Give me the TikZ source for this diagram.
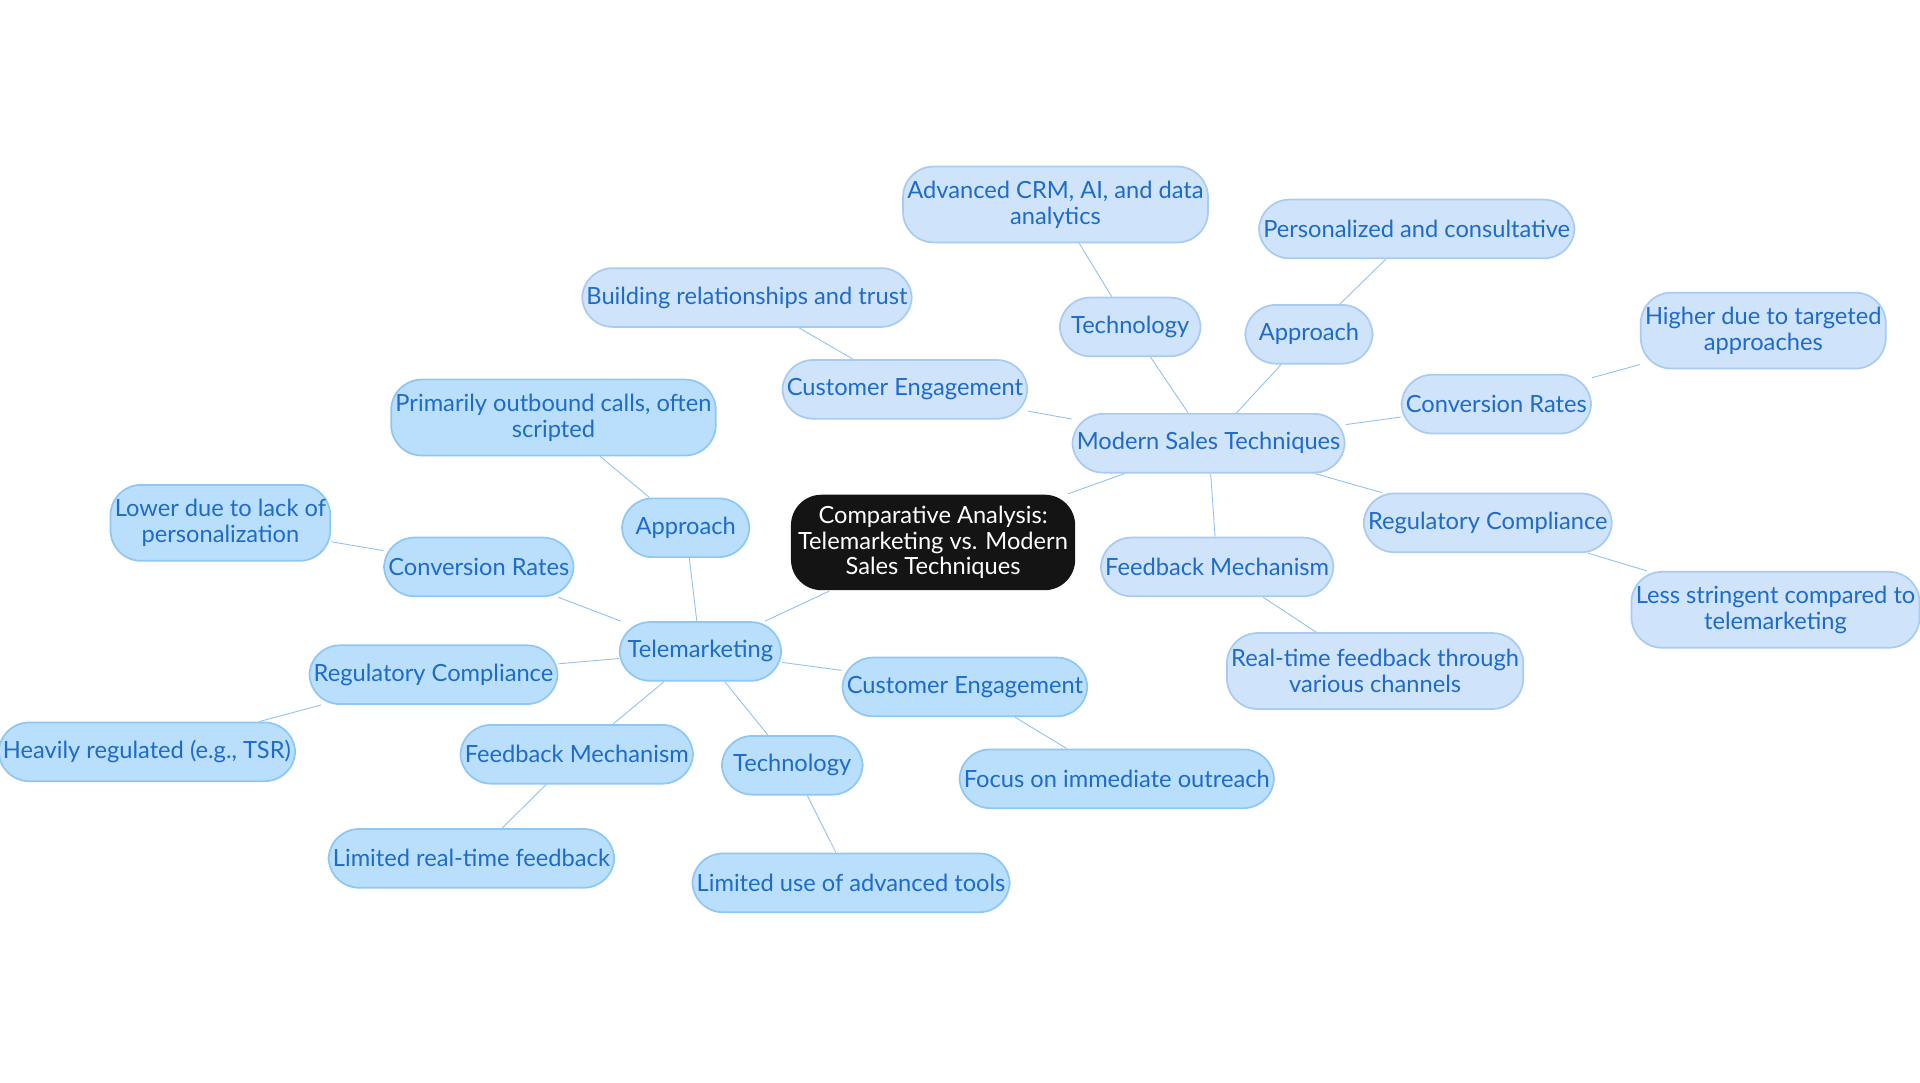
\documentclass[tikz,border=0pt]{standalone}
\usepackage{fontspec}
\setmainfont{Lato}
\usepackage{tikz}
\usetikzlibrary{backgrounds}

\definecolor{ink}{HTML}{1F6BC9}
\definecolor{modfill}{HTML}{CFE3FB}
\definecolor{moddraw}{HTML}{A9CBF2}
\definecolor{telfill}{HTML}{B9DFFC}
\definecolor{teldraw}{HTML}{8EC7F4}
\definecolor{edge}{HTML}{8FC0EE}

\tikzset{
  leaf/.style={rounded corners=0.5cm,align=center,text=ink,font=\fontsize{11pt}{12pt}\selectfont,minimum height=0.96cm,inner sep=2pt},
  modern/.style={leaf,fill=modfill,draw=moddraw},
  tele/.style={leaf,fill=telfill,draw=teldraw},
}

\begin{document}
\begin{tikzpicture}
  [x=0.02cm,y=-0.02cm,line width=0.8pt]
  \useasboundingbox (0,0) rectangle (1568,884);

  \node[style={rounded corners=0.5cm,fill=black!92,text=white,align=center,minimum width=4.04cm,minimum height=1.56cm,font=\fontsize{11pt}{12pt}\selectfont}] (root) at (762,443) {Comparative Analysis:\\Telemarketing vs. Modern\\Sales Techniques};

  \node[modern,minimum width=4cm] (m) at (987,362) {Modern Sales Techniques};
  \node[tele,minimum width=2.64cm] (t) at (572,532) {Telemarketing};

  \node[modern,minimum width=3.72cm] (m1) at (739,318) {Customer Engagement};
  \node[modern,minimum width=4.64cm] (m1a) at (610,243) {Building relationships and trust};
  \node[modern,minimum width=2.3cm] (m2) at (923,267) {Technology};
  \node[modern,minimum width=4.34cm,minimum height=1.24cm] (m2a) at (862,167) {Advanced CRM, AI, and data\\analytics};
  \node[modern,minimum width=2.08cm] (m3) at (1069,273) {Approach};
  \node[modern,minimum width=4.52cm] (m3a) at (1157,187) {Personalized and consultative};
  \node[modern,minimum width=3.04cm] (m4) at (1222,330) {Conversion Rates};
  \node[modern,minimum width=3.68cm,minimum height=1.24cm] (m4a) at (1440,270) {Higher due to targeted\\approaches};
  \node[modern,minimum width=3.72cm] (m5) at (1215,427) {Regulatory Compliance};
  \node[modern,minimum width=4.24cm,minimum height=1.24cm] (m5a) at (1450,498) {Less stringent compared to\\telemarketing};
  \node[modern,minimum width=3.54cm] (m6) at (994,463) {Feedback Mechanism};
  \node[modern,minimum width=4.32cm,minimum height=1.24cm] (m6a) at (1123,548) {Real-time feedback through\\various channels};

  \node[tele,minimum width=2.08cm] (t1) at (560,431) {Approach};
  \node[tele,minimum width=4.56cm,minimum height=1.24cm] (t1a) at (452,341) {Primarily outbound calls, often\\scripted};
  \node[tele,minimum width=3.04cm] (t2) at (391,463) {Conversion Rates};
  \node[tele,minimum width=3.32cm,minimum height=1.24cm] (t2a) at (180,427) {Lower due to lack of\\personalization};
  \node[tele,minimum width=3.72cm] (t3) at (354,551) {Regulatory Compliance};
  \node[tele,minimum width=4.36cm] (t3a) at (120,614) {Heavily regulated (e.g., TSR)};
  \node[tele,minimum width=3.54cm] (t4) at (471,616) {Feedback Mechanism};
  \node[tele,minimum width=4.18cm] (t4a) at (385,701) {Limited real-time feedback};
  \node[tele,minimum width=2.3cm] (t5) at (647,625) {Technology};
  \node[tele,minimum width=4.52cm] (t5a) at (695,721) {Limited use of advanced tools};
  \node[tele,minimum width=3.72cm] (t6) at (788,561) {Customer Engagement};
  \node[tele,minimum width=4.52cm] (t6a) at (912,636) {Focus on immediate outreach};

  \begin{pgfonlayer}{background}
  \foreach \from/\to in {root/m,root/t,m/m1,m1/m1a,m/m2,m2/m2a,m/m3,m3/m3a,m/m4,m4/m4a,m/m5,m5/m5a,m/m6,m6/m6a,t/t1,t1/t1a,t/t2,t2/t2a,t/t3,t3/t3a,t/t4,t4/t4a,t/t5,t5/t5a,t/t6,t6/t6a}
    \draw[edge] (\from) -- (\to);
  \end{pgfonlayer}
\end{tikzpicture}
\end{document}
